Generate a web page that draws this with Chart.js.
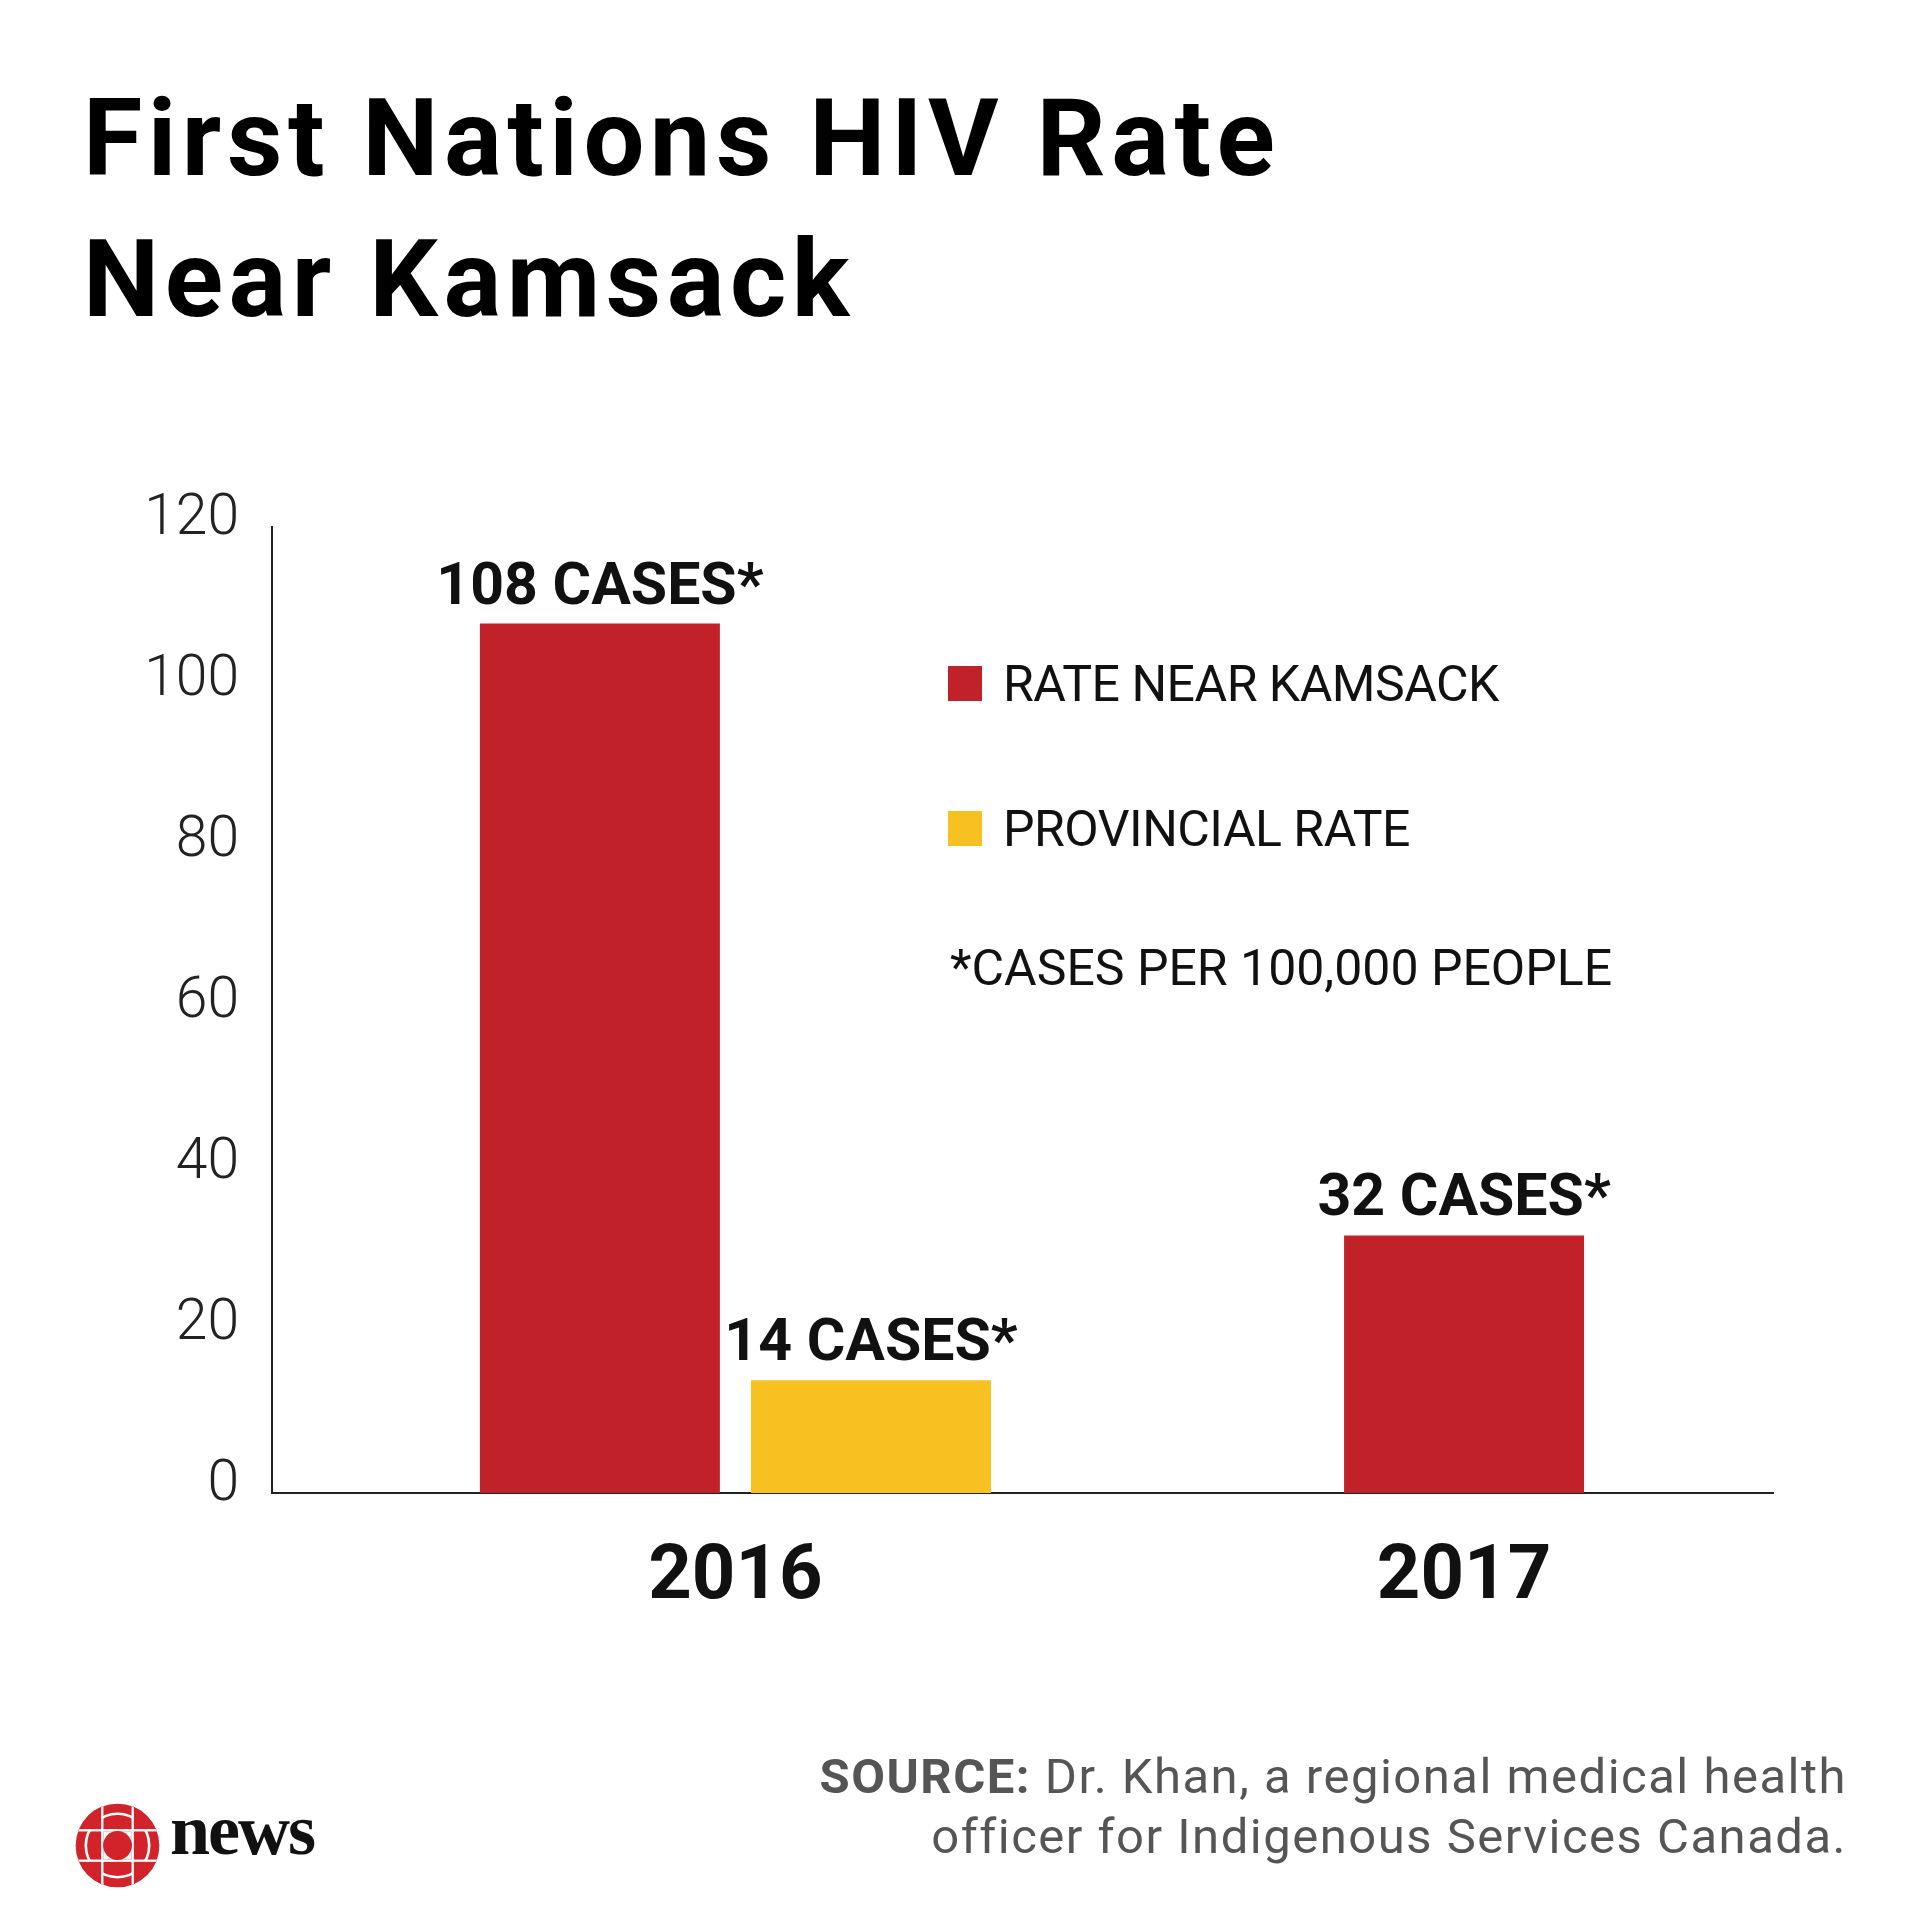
<!DOCTYPE html>
<html>
<head>
<meta charset="utf-8">
<title>First Nations HIV Rate Near Kamsack</title>
<script src="https://cdn.jsdelivr.net/npm/chart.js@4.4.1/dist/chart.umd.min.js"></script>
<style>
  html, body { margin: 0; padding: 0; background: #fff; }
  #page { position: relative; width: 1920px; height: 1920px; overflow: hidden; font-family: Roboto, "Liberation Sans", sans-serif; color: #000; }
  #chart { position: absolute; left: 0; top: 0; }
  h1 { position: absolute; left: 83px; top: 68px; margin: 0; font-size: 108px; line-height: 141px; font-weight: 700; letter-spacing: 5.5px; }
  .legend-item { position: absolute; left: 948px; height: 35px; display: flex; align-items: center; font-size: 50px; line-height: 50px; letter-spacing: -0.5px; color: #111; white-space: nowrap; }
  .swatch { width: 34px; height: 35px; margin-right: 21px; flex: none; }
  #note { position: absolute; left: 950px; top: 943px; font-size: 50px; line-height: 50px; letter-spacing: 0; color: #111; white-space: nowrap; }
  #source { position: absolute; right: 73px; top: 1747px; text-align: right; font-size: 49px; line-height: 60px; color: #555; letter-spacing: 1.5px; white-space: nowrap; }
  #source b { font-weight: 700; }
  #gem { position: absolute; left: 75px; top: 1803px; width: 85px; height: 85px; }
  #news { position: absolute; left: 170px; top: 1790px; font-family: "Liberation Serif", serif; font-weight: 700; font-size: 72px; line-height: 80px; letter-spacing: -2px; color: #111; }
</style>
</head>
<body>
<div id="page">
  <canvas id="chart" width="1920" height="1920"></canvas>
  <h1>First Nations HIV Rate<br>Near Kamsack</h1>
  <div id="legend"></div>
  <div id="note">*CASES PER 100,000 PEOPLE</div>
  <div id="source"><b>SOURCE:</b> Dr. Khan, a regional medical health<br>officer for Indigenous Services Canada.</div>
  <svg id="gem" viewBox="-130 -130 260 260">
    <defs><clipPath id="disc"><circle r="128"></circle></clipPath></defs>
    <g clip-path="url(#disc)">
      <rect x="-130" y="-130" width="260" height="260" fill="#d2232a"></rect>
      <circle r="97" fill="none" stroke="#fff" stroke-width="8"></circle>
      <rect x="47" y="-130" width="83" height="83" fill="#d2232a"></rect>
      <rect x="-130" y="-130" width="83" height="83" fill="#d2232a"></rect>
      <rect x="47" y="47" width="83" height="83" fill="#d2232a"></rect>
      <rect x="-130" y="47" width="83" height="83" fill="#d2232a"></rect>
      <rect x="-50" y="-130" width="7" height="260" fill="#fff"></rect>
      <rect x="43" y="-130" width="7" height="260" fill="#fff"></rect>
      <rect x="-130" y="-50" width="260" height="7" fill="#fff"></rect>
      <rect x="-130" y="43" width="260" height="7" fill="#fff"></rect>
      <rect x="-43" y="-43" width="86" height="86" fill="#fff"></rect>
      <circle r="44" fill="#d2232a"></circle>
    </g>
  </svg>
  <div id="news">news</div>
</div>
<script>
const years = [2016, 2017];
const kamsackRate = [108, 32];
const provincialRate = [14, null];
const seriesNames = ["RATE NEAR KAMSACK", "PROVINCIAL RATE"];
const seriesColors = ["#c1222a", "#f7c121"];
const yTicks = [0, 20, 40, 60, 80, 100, 120];

const toPoints = (values) => years.map((year, i) => ({ x: year, y: values[i] }));

// draws "108 CASES*" etc above each bar
const barLabels = {
  id: "barLabels",
  afterDatasetsDraw(chart) {
    const ctx = chart.ctx;
    ctx.save();
    ctx.font = "700 59px Roboto, 'Liberation Sans', sans-serif";
    ctx.fillStyle = "#111";
    ctx.textAlign = "center";
    ctx.textBaseline = "alphabetic";
    chart.data.datasets.forEach((ds, i) => {
      chart.getDatasetMeta(i).data.forEach((bar, j) => {
        const v = ds.data[j].y;
        if (v === null) return;
        ctx.fillText(v + " CASES*", bar.x, bar.y - 20);
      });
    });
    ctx.restore();
  }
};

const chart = new Chart(document.getElementById("chart"), {
  type: "bar",
  data: {
    datasets: [
      { label: seriesNames[0], data: toPoints(kamsackRate), backgroundColor: seriesColors[0] },
      { label: seriesNames[1], data: toPoints(provincialRate), backgroundColor: seriesColors[1] }
    ]
  },
  options: {
    responsive: false,
    animation: false,
    layout: { padding: { top: 527, left: 0, right: 147, bottom: 0 } },
    datasets: {
      bar: {
        skipNull: true,
        categoryPercentage: 0.744,
        barPercentage: 0.9,
        maxBarThickness: 240,
        borderWidth: 0
      }
    },
    scales: {
      x: {
        type: "linear",
        offset: false,
        min: 2015.364,
        max: 2017.424,
        afterBuildTicks: (scale) => { scale.ticks = years.map(v => ({ value: v })); },
        afterFit: (scale) => { scale.height = 427; },
        grid: { display: false, drawTicks: false },
        border: { display: true, color: "#222", width: 2 },
        ticks: {
          callback: (v) => String(v),
          padding: 40,
          maxRotation: 0,
          autoSkip: false,
          color: "#111",
          font: { family: "Roboto, 'Liberation Sans', sans-serif", size: 76, weight: "700" }
        }
      },
      y: {
        min: 0,
        max: 120,
        afterBuildTicks: (scale) => { scale.ticks = yTicks.map(v => ({ value: v })); },
        afterFit: (scale) => { scale.width = 272; },
        grid: { display: false, drawTicks: false },
        border: { display: true, color: "#222", width: 2 },
        ticks: {
          padding: 33,
          labelOffset: -7,
          color: "#222",
          font: { family: "Roboto, 'Liberation Sans', sans-serif", size: 57, weight: "300" }
        }
      }
    },
    plugins: {
      legend: { display: false },
      tooltip: { enabled: false },
      title: { display: false }
    }
  },
  plugins: [barLabels]
});

// html legend built from the chart datasets
const legendBox = document.getElementById("legend");
chart.data.datasets.forEach((ds, i) => {
  const item = document.createElement("div");
  item.className = "legend-item";
  item.style.top = (666 + i * 145) + "px";
  const sw = document.createElement("span");
  sw.className = "swatch";
  sw.style.background = ds.backgroundColor;
  item.appendChild(sw);
  item.appendChild(document.createTextNode(ds.label));
  legendBox.appendChild(item);
});
</script>
</body>
</html>
